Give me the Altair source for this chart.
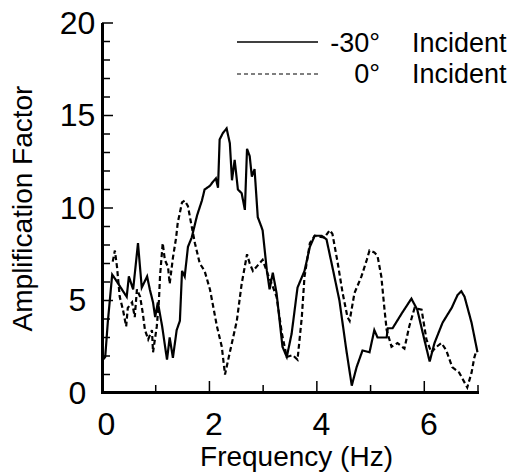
import altair as alt
import pandas as pd

# -30 deg incident (solid)
f_solid = [0.02, 0.06, 0.11, 0.19, 0.26, 0.37, 0.46, 0.50, 0.58, 0.67, 0.74, 0.84, 0.89, 0.95, 0.99,
           1.04, 1.12, 1.21, 1.26, 1.32, 1.39, 1.45, 1.49, 1.54, 1.60, 1.67, 1.77, 1.86, 1.91, 2.01,
           2.06, 2.12, 2.16, 2.19, 2.25, 2.32, 2.38, 2.42, 2.47, 2.53, 2.60, 2.66, 2.70, 2.75, 2.79,
           2.84, 2.90, 2.94, 2.99, 3.07, 3.12, 3.18, 3.25, 3.36, 3.44, 3.53, 3.64, 3.77, 3.87, 3.96,
           4.09, 4.18, 4.29, 4.42, 4.55, 4.65, 4.74, 4.85, 4.98, 5.07, 5.13, 5.30, 5.32, 5.41, 5.58,
           5.76, 5.87, 6.00, 6.10, 6.19, 6.34, 6.51, 6.62, 6.69, 6.75, 6.88, 6.97, 6.99]
a_solid = [1.8, 1.95, 3.9, 6.4, 6.1, 5.6, 5.2, 6.3, 5.6, 8.1, 5.7, 6.3, 5.6, 4.9, 4.1,
           4.9, 3.6, 1.8, 3.0, 1.9, 3.4, 3.9, 6.6, 6.3, 7.9, 8.4, 9.6, 10.4, 11.0, 11.2,
           11.4, 11.6, 11.1, 13.7, 14.05, 14.3, 13.5, 11.5, 12.6, 11.0, 10.8, 9.9, 13.2, 12.8, 11.7,
           12.1, 9.5, 9.2, 8.8, 6.6, 5.6, 6.5, 5.4, 2.5, 1.95, 3.2, 5.7, 6.6, 7.9, 8.5,
           8.5, 8.3, 6.8, 5.0, 2.3, 0.4, 1.4, 2.3, 2.2, 3.4, 3.0, 3.0, 3.5, 3.5, 4.3,
           5.1, 4.5, 2.9, 1.7, 2.7, 3.8, 4.6, 5.3, 5.5, 5.2, 3.8, 2.5, 2.2]

# 0 deg incident (dashed)
f_dash = [0.20, 0.24, 0.28, 0.33, 0.39, 0.45, 0.48, 0.56, 0.61, 0.65, 0.71, 0.76, 0.80, 0.86, 0.93,
          0.95, 1.02, 1.06, 1.08, 1.13, 1.17, 1.23, 1.26, 1.32, 1.38, 1.41, 1.49, 1.54, 1.60, 1.67,
          1.73, 1.82, 1.91, 2.01, 2.14, 2.23, 2.29, 2.38, 2.51, 2.60, 2.70, 2.75, 2.81, 2.90, 2.99,
          3.09, 3.16, 3.25, 3.35, 3.44, 3.55, 3.64, 3.72, 3.77, 3.87, 3.96, 4.14, 4.24, 4.29, 4.39,
          4.48, 4.57, 4.61, 4.70, 4.83, 4.93, 4.98, 5.07, 5.13, 5.20, 5.26, 5.30, 5.39, 5.50, 5.63,
          5.72, 5.82, 5.95, 6.04, 6.13, 6.23, 6.32, 6.41, 6.52, 6.65, 6.80, 6.88, 6.93, 6.97]
a_dash = [7.1, 7.7, 6.8, 5.2, 4.5, 3.6, 4.6, 4.9, 4.1, 5.6, 5.2, 4.3, 3.4, 2.9, 3.4,
          2.2, 3.6, 5.0, 6.3, 8.1, 7.2, 6.8, 5.9, 7.3, 8.4, 9.2, 10.3, 10.4, 10.1, 9.0,
          8.1, 7.0, 6.6, 5.6, 3.6, 2.5, 1.0, 2.2, 3.9, 5.9, 7.5, 7.0, 6.6, 6.9, 7.2,
          6.4, 5.9, 5.2, 3.2, 1.95, 2.05, 1.8, 4.1, 6.3, 8.1, 8.5, 8.4, 8.8, 8.6, 7.0,
          5.4, 4.1, 3.9, 5.4, 6.3, 7.2, 7.7, 7.6, 7.4, 6.3, 4.5, 3.4, 2.5, 2.7, 2.4,
          3.6, 4.6, 4.5, 2.9, 2.2, 2.5, 2.7, 2.3, 1.4, 1.1, 0.3, 1.1, 1.9, 2.3]

series_names = ["-30° Incident", "0° Incident"]
legend_deg = ["-30°", "0°"]
legend_word = ["Incident", "Incident"]

x_major = [0, 2, 4, 6]
x_minor = [1, 3, 5, 7]
y_major = [0, 5, 10, 15, 20]
y_minor = [v for v in range(1, 20) if v % 5 != 0]

FONT = "Liberation Sans"
W, H = 376, 370

df = pd.concat([
    pd.DataFrame({"f": f_solid, "A": a_solid, "s": series_names[0], "o": range(len(f_solid))}),
    pd.DataFrame({"f": f_dash, "A": a_dash, "s": series_names[1], "o": range(len(f_dash))}),
])

xscale = alt.Scale(domain=[0, 7], nice=False, zero=False)
yscale = alt.Scale(domain=[0, 20], nice=False)

lines = alt.Chart(df).mark_line(color="black", strokeWidth=2.2).encode(
    x=alt.X("f:Q", scale=xscale, axis=alt.Axis(
        values=x_major, format="d", ticks=False, grid=False, labelFontSize=32, labelFont=FONT,
        labelColor="black", labelPadding=16, labelOffset=4, domain=False,
        title="Frequency (Hz)", titleFont=FONT, titleFontSize=28,
        titleFontWeight="normal", titleColor="black", titlePadding=3, titleX=194,
        labelFlush=False)),
    y=alt.Y("A:Q", scale=yscale, axis=alt.Axis(
        values=y_major, format="d", ticks=False, grid=False, labelFontSize=32, labelFont=FONT,
        labelColor="black", labelAlign="center", labelBaseline="middle", labelPadding=25,
        domain=False, labelFlush=False,
        title="Amplification Factor", titleFont=FONT, titleFontSize=28, titleFontWeight="normal",
        titleColor="black", titlePadding=22)),
    strokeDash=alt.StrokeDash("s:N", scale=alt.Scale(domain=series_names, range=[[1, 0], [5, 3]]),
                              legend=None),
    detail="s:N",
    order="o:Q",
)

# axis spines as thin filled rectangles hugging x=0 and y=0
spine_left = alt.Chart(pd.DataFrame({"f": [0]})).mark_rect(color="black").encode(
    x=alt.value(-1), x2=alt.value(2), y=alt.value(0), y2=alt.value(H + 1))
spine_bottom = alt.Chart(pd.DataFrame({"A": [0]})).mark_rect(color="black").encode(
    x=alt.value(-1), x2=alt.value(W + 1), y=alt.value(H - 2), y2=alt.value(H + 1))

xmaj = alt.Chart(pd.DataFrame({"f": x_major})).mark_rule(color="black", strokeWidth=1.5).encode(
    x=alt.X("f:Q"), y=alt.value(H), y2=alt.value(H - 12))
xmin = alt.Chart(pd.DataFrame({"f": x_minor})).mark_rule(color="black", strokeWidth=1.5).encode(
    x=alt.X("f:Q"), y=alt.value(H), y2=alt.value(H - 8))
ymaj = alt.Chart(pd.DataFrame({"A": y_major})).mark_rule(color="black", strokeWidth=1.5).encode(
    y=alt.Y("A:Q"), x=alt.value(0), x2=alt.value(11))
ymin = alt.Chart(pd.DataFrame({"A": y_minor})).mark_rule(color="black", strokeWidth=1.5).encode(
    y=alt.Y("A:Q"), x=alt.value(0), x2=alt.value(8))

leg_solid = alt.Chart(pd.DataFrame({"s": [series_names[0]]})).mark_rule(
    color="black", strokeWidth=1.5).encode(x=alt.value(135), x2=alt.value(216), y=alt.value(19))
leg_dash = alt.Chart(pd.DataFrame({"s": [series_names[1]]})).mark_rule(
    color="black", strokeWidth=1.2, strokeDash=[4, 3]).encode(
    x=alt.value(135), x2=alt.value(216), y=alt.value(51))

def legend_text(txt, align, xpos, ypos):
    return alt.Chart(pd.DataFrame({"t": [txt]})).mark_text(
        align=align, baseline="alphabetic", font=FONT, fontSize=27, color="black"
    ).encode(text="t:N", x=alt.value(xpos), y=alt.value(ypos))

texts = [
    legend_text(legend_deg[0], "right", 278, 29),
    legend_text(legend_word[0], "left", 310, 29),
    legend_text(legend_deg[1], "right", 278, 60),
    legend_text(legend_word[1], "left", 310, 60),
]

chart = alt.layer(lines, spine_left, spine_bottom, xmaj, xmin, ymaj, ymin,
                  leg_solid, leg_dash, *texts).properties(
    width=W, height=H,
    padding={"left": 94, "top": 15, "right": 32, "bottom": 81},
    autosize=alt.AutoSizeParams(type="none"),
).configure_view(stroke=None)

chart.save("out.html", embed_options={"renderer": "svg", "actions": False})
